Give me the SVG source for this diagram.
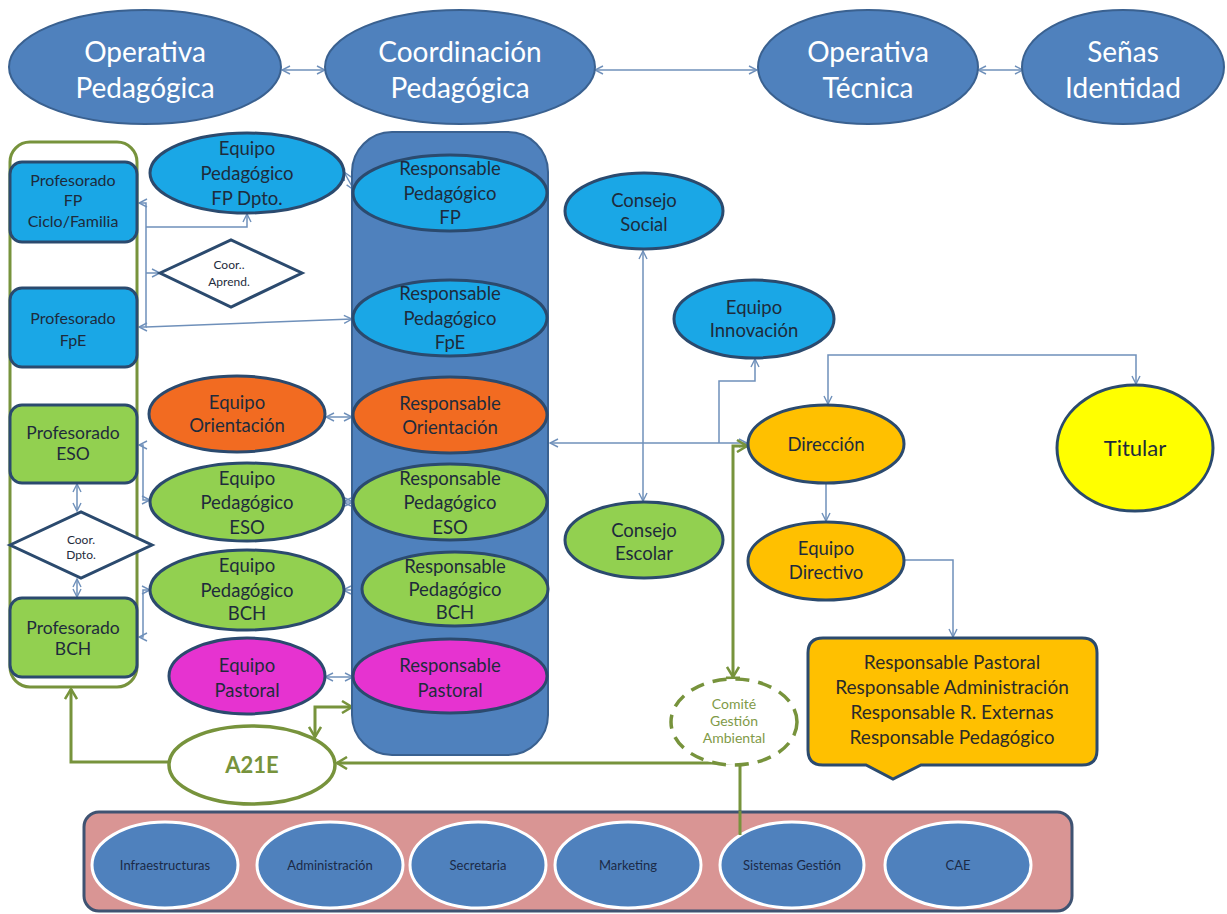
<svg xmlns="http://www.w3.org/2000/svg" width="1227" height="914" viewBox="0 0 1227 914">
<defs>
<style>
text{font-family:Lato,"Liberation Sans",sans-serif;text-anchor:middle}
.top{fill:#4F81BD;stroke:#3A6190;stroke-width:2}
.tt{fill:#fff;font-size:28px}
.nb{stroke:#2B4A6E;stroke-width:3}
.lb{fill:#1AA7E6}
.gr{fill:#92D050}
.or{fill:#F26B21}
.mg{fill:#E633D0}
.am{fill:#FFC000}
.t17{font-size:18.5px;fill:#1E2B3C}
.t14{font-size:16px;fill:#1E2B3C}
.t15{font-size:17.5px;fill:#1E2B3C}
.t11{font-size:12px;fill:#1E2B3C}
.bl{fill:none;stroke:#6F90BA;stroke-width:1.5}
.gl{fill:none;stroke:#77933C;stroke-width:3}
.be{fill:#4F81BD;stroke:#fff;stroke-width:3}
.bt{font-size:13px;fill:#1B2A47}
.rt{font-size:19px;fill:#2A2A2A}
.ct{font-size:14px;fill:#7F9A48}
</style>
<marker id="ab" viewBox="0 0 10 10" refX="9" refY="5" markerWidth="10" markerHeight="10" markerUnits="userSpaceOnUse" orient="auto-start-reverse"><path d="M1,1 L9,5 L1,9" fill="none" stroke="#6F90BA" stroke-width="1.4"/></marker>
<marker id="ag" viewBox="0 0 14 14" refX="12" refY="7" markerWidth="14" markerHeight="14" markerUnits="userSpaceOnUse" orient="auto-start-reverse"><path d="M2,1 L12,7 L2,13" fill="none" stroke="#77933C" stroke-width="2.5"/></marker>
</defs>
<rect width="1227" height="914" fill="#fff"/>

<g id="connectors">
<path class="bl" d="M282,70 H325" marker-start="url(#ab)" marker-end="url(#ab)"/>
<path class="bl" d="M595,70 H757" marker-start="url(#ab)" marker-end="url(#ab)"/>
<path class="bl" d="M978,70 H1023" marker-start="url(#ab)" marker-end="url(#ab)"/>
<path class="bl" d="M139,203 H146 V327 H139" marker-start="url(#ab)" marker-end="url(#ab)"/>
<path class="bl" d="M146,227 H247 V214" marker-end="url(#ab)"/>
<path class="bl" d="M146,273 H160" marker-end="url(#ab)"/>
<path class="bl" d="M146,327 L352,319" marker-end="url(#ab)"/>
<path class="bl" d="M344,172 L354,190" marker-start="url(#ab)" marker-end="url(#ab)"/>
<path class="bl" d="M326,417 H352" marker-start="url(#ab)" marker-end="url(#ab)"/>
<path class="bl" d="M139,445 H143 V500 H150" marker-start="url(#ab)" marker-end="url(#ab)"/>
<path class="bl" d="M343,502 H353" marker-start="url(#ab)" marker-end="url(#ab)"/>
<path class="bl" d="M150,590 H143 V637 H139" marker-start="url(#ab)" marker-end="url(#ab)"/>
<path class="bl" d="M343,590 H362" marker-start="url(#ab)" marker-end="url(#ab)"/>
<path class="bl" d="M77,484 V511" marker-start="url(#ab)" marker-end="url(#ab)"/>
<path class="bl" d="M77,579 V597" marker-start="url(#ab)" marker-end="url(#ab)"/>
<path class="bl" d="M325,677 H353" marker-start="url(#ab)" marker-end="url(#ab)"/>
<path class="bl" d="M550,443 H747" marker-start="url(#ab)" marker-end="url(#ab)"/>
<path class="bl" d="M643,251 V501" marker-start="url(#ab)" marker-end="url(#ab)"/>
<path class="bl" d="M719,443 V381 H755 V359" marker-end="url(#ab)"/>
<path class="bl" d="M826,483 V521" marker-end="url(#ab)"/>
<path class="bl" d="M828,404 V355 H1136 V384" marker-start="url(#ab)" marker-end="url(#ab)"/>
<path class="bl" d="M905,560 H953 V637" marker-end="url(#ab)"/>
<path class="gl" d="M170,762 H71 V689" marker-end="url(#ag)"/>
<path class="gl" d="M315,737 V707 H352" marker-start="url(#ag)" marker-end="url(#ag)"/>
<path class="gl" d="M740,833 V763 H337" marker-end="url(#ag)"/>
<path class="gl" d="M747,446 H733 V677" marker-start="url(#ag)" marker-end="url(#ag)"/>
<path class="gl" d="M726,678 H740"/>
</g>

<g id="op-ped"><ellipse class="top" cx="145" cy="67" rx="136" ry="57"/><text class="tt" x="145" y="62">Operativa</text><text class="tt" x="145" y="98">Pedagógica</text></g>
<g id="coord-ped"><ellipse class="top" cx="460" cy="67" rx="135" ry="57"/><text class="tt" x="460" y="62">Coordinación</text><text class="tt" x="460" y="98">Pedagógica</text></g>
<g id="op-tec"><ellipse class="top" cx="868" cy="67" rx="110" ry="57"/><text class="tt" x="868" y="62">Operativa</text><text class="tt" x="868" y="98">Técnica</text></g>
<g id="senas"><ellipse class="top" cx="1123" cy="67" rx="101" ry="57"/><text class="tt" x="1123" y="62">Señas</text><text class="tt" x="1123" y="98">Identidad</text></g>

<g id="profesorado-frame"><rect x="10" y="142" width="127" height="545" rx="20" fill="none" stroke="#77933C" stroke-width="3"/></g>
<g id="prof-fp"><rect class="nb lb" x="10" y="162" width="127" height="80" rx="12"/><text class="t14" x="73" y="186">Profesorado</text><text class="t14" x="73" y="206">FP</text><text class="t14" x="73" y="227">Ciclo/Familia</text></g>
<g id="prof-fpe"><rect class="nb lb" x="10" y="288" width="127" height="79" rx="12"/><text class="t14" x="73" y="324">Profesorado</text><text class="t14" x="73" y="346">FpE</text></g>
<g id="prof-eso"><rect class="nb gr" x="10" y="405" width="127" height="78" rx="12"/><text class="t15" x="73" y="439">Profesorado</text><text class="t15" x="73" y="460">ESO</text></g>
<g id="prof-bch"><rect class="nb gr" x="10" y="598" width="127" height="79" rx="12"/><text class="t15" x="73" y="634">Profesorado</text><text class="t15" x="73" y="655">BCH</text></g>
<g id="coor-dpto"><polygon points="10,545 81,512 152,545 81,578" fill="#fff" stroke="#2B4A6E" stroke-width="3"/><text class="t11" x="81" y="544">Coor.</text><text class="t11" x="81" y="559">Dpto.</text></g>
<g id="coor-aprend"><polygon points="160,273 231,240 302,273 231,307" fill="#fff" stroke="#2B4A6E" stroke-width="3"/><text class="t11" x="229" y="269">Coor..</text><text class="t11" x="229" y="286">Aprend.</text></g>

<g id="eq-fp"><ellipse class="nb lb" cx="247" cy="173" rx="97" ry="40"/><text class="t17" x="247" y="155">Equipo</text><text class="t17" x="247" y="180">Pedagógico</text><text class="t17" x="247" y="205">FP Dpto.</text></g>
<g id="eq-orient"><ellipse class="nb or" cx="237" cy="414" rx="88" ry="38"/><text class="t17" x="237" y="409">Equipo</text><text class="t17" x="237" y="432">Orientación</text></g>
<g id="eq-eso"><ellipse class="nb gr" cx="247" cy="502" rx="97" ry="39"/><text class="t17" x="247" y="485">Equipo</text><text class="t17" x="247" y="509">Pedagógico</text><text class="t17" x="247" y="534">ESO</text></g>
<g id="eq-bch"><ellipse class="nb gr" cx="247" cy="590" rx="97" ry="40"/><text class="t17" x="247" y="572">Equipo</text><text class="t17" x="247" y="597">Pedagógico</text><text class="t17" x="247" y="620">BCH</text></g>
<g id="eq-pastoral"><ellipse class="nb mg" cx="247" cy="676" rx="78" ry="38"/><text class="t17" x="247" y="672">Equipo</text><text class="t17" x="247" y="697">Pastoral</text></g>

<g id="coordinacion-column"><rect x="352" y="132" width="196" height="623" rx="40" fill="#4F81BD" stroke="#3A6190" stroke-width="2"/></g>
<g id="resp-fp"><ellipse class="nb lb" cx="450" cy="193" rx="97" ry="38"/><text class="t17" x="450" y="175">Responsable</text><text class="t17" x="450" y="200">Pedagógico</text><text class="t17" x="450" y="224">FP</text></g>
<g id="resp-fpe"><ellipse class="nb lb" cx="450" cy="318" rx="97" ry="38"/><text class="t17" x="450" y="300">Responsable</text><text class="t17" x="450" y="325">Pedagógico</text><text class="t17" x="450" y="349">FpE</text></g>
<g id="resp-orient"><ellipse class="nb or" cx="450" cy="415" rx="97" ry="38"/><text class="t17" x="450" y="410">Responsable</text><text class="t17" x="450" y="434">Orientación</text></g>
<g id="resp-eso"><ellipse class="nb gr" cx="450" cy="502" rx="97" ry="38"/><text class="t17" x="450" y="485">Responsable</text><text class="t17" x="450" y="509">Pedagógico</text><text class="t17" x="450" y="534">ESO</text></g>
<g id="resp-bch"><ellipse class="nb gr" cx="455" cy="589" rx="93" ry="37"/><text class="t17" x="455" y="573">Responsable</text><text class="t17" x="455" y="596">Pedagógico</text><text class="t17" x="455" y="619">BCH</text></g>
<g id="resp-pastoral"><ellipse class="nb mg" cx="450" cy="676" rx="97" ry="37"/><text class="t17" x="450" y="672">Responsable</text><text class="t17" x="450" y="697">Pastoral</text></g>

<g id="consejo-social"><ellipse class="nb lb" cx="644" cy="211" rx="79" ry="38"/><text class="t17" x="644" y="207">Consejo</text><text class="t17" x="644" y="231">Social</text></g>
<g id="eq-innovacion"><ellipse class="nb lb" cx="754" cy="319" rx="80" ry="39"/><text class="t17" x="754" y="314">Equipo</text><text class="t17" x="754" y="337">Innovación</text></g>
<g id="consejo-escolar"><ellipse class="nb gr" cx="644" cy="540" rx="79" ry="38"/><text class="t17" x="644" y="537">Consejo</text><text class="t17" x="644" y="560">Escolar</text></g>
<g id="direccion"><ellipse class="nb am" cx="826" cy="444" rx="78" ry="39"/><text class="t17" x="826" y="451">Dirección</text></g>
<g id="eq-directivo"><ellipse class="nb am" cx="826" cy="561" rx="78" ry="39"/><text class="t17" x="826" y="555">Equipo</text><text class="t17" x="826" y="579">Directivo</text></g>
<g id="titular"><ellipse class="nb" cx="1135" cy="448" rx="78" ry="63" fill="#FFFF00"/><text x="1135" y="456" style="font-size:22px;fill:#1E2B3C">Titular</text></g>
<g id="responsables"><path class="nb am" d="M823,638 H1082 Q1097,638 1097,653 V750 Q1097,765 1082,765 H921 L893,779 L866,765 H823 Q808,765 808,750 V653 Q808,638 823,638 Z"/><text class="rt" x="952" y="669">Responsable Pastoral</text><text class="rt" x="952" y="694">Responsable Administración</text><text class="rt" x="952" y="719">Responsable R. Externas</text><text class="rt" x="952" y="744">Responsable Pedagógico</text></g>
<g id="comite"><ellipse cx="734" cy="722" rx="63" ry="43" fill="#fff" stroke="#77933C" stroke-width="3.5" stroke-dasharray="14,9"/><text class="ct" x="734" y="709">Comité</text><text class="ct" x="734" y="726">Gestión</text><text class="ct" x="734" y="743">Ambiental</text></g>
<g id="a21e"><ellipse cx="252" cy="765" rx="83" ry="39" fill="#fff" stroke="#77933C" stroke-width="3.5"/><text x="252" y="773" style="font-size:22px;font-weight:bold;fill:#77933C">A21E</text></g>

<g id="operativa-tecnica-panel"><rect x="84" y="812" width="988" height="99" rx="15" fill="#D99594" stroke="#3F5372" stroke-width="3"/></g>
<g id="infraestructuras"><ellipse class="be" cx="165" cy="865" rx="73" ry="43"/><text class="bt" x="165" y="870">Infraestructuras</text></g>
<g id="administracion"><ellipse class="be" cx="330" cy="865" rx="73" ry="43"/><text class="bt" x="330" y="870">Administración</text></g>
<g id="secretaria"><ellipse class="be" cx="478" cy="865" rx="68" ry="43"/><text class="bt" x="478" y="870">Secretaria</text></g>
<g id="marketing"><ellipse class="be" cx="628" cy="865" rx="73" ry="43"/><text class="bt" x="628" y="870">Marketing</text></g>
<g id="sistemas-gestion"><ellipse class="be" cx="792" cy="865" rx="72" ry="43"/><text class="bt" x="792" y="870">Sistemas Gestión</text></g>
<g id="cae"><ellipse class="be" cx="958" cy="865" rx="73" ry="43"/><text class="bt" x="958" y="870">CAE</text></g>
<path class="gl" d="M740,835 V811"/>
</svg>
